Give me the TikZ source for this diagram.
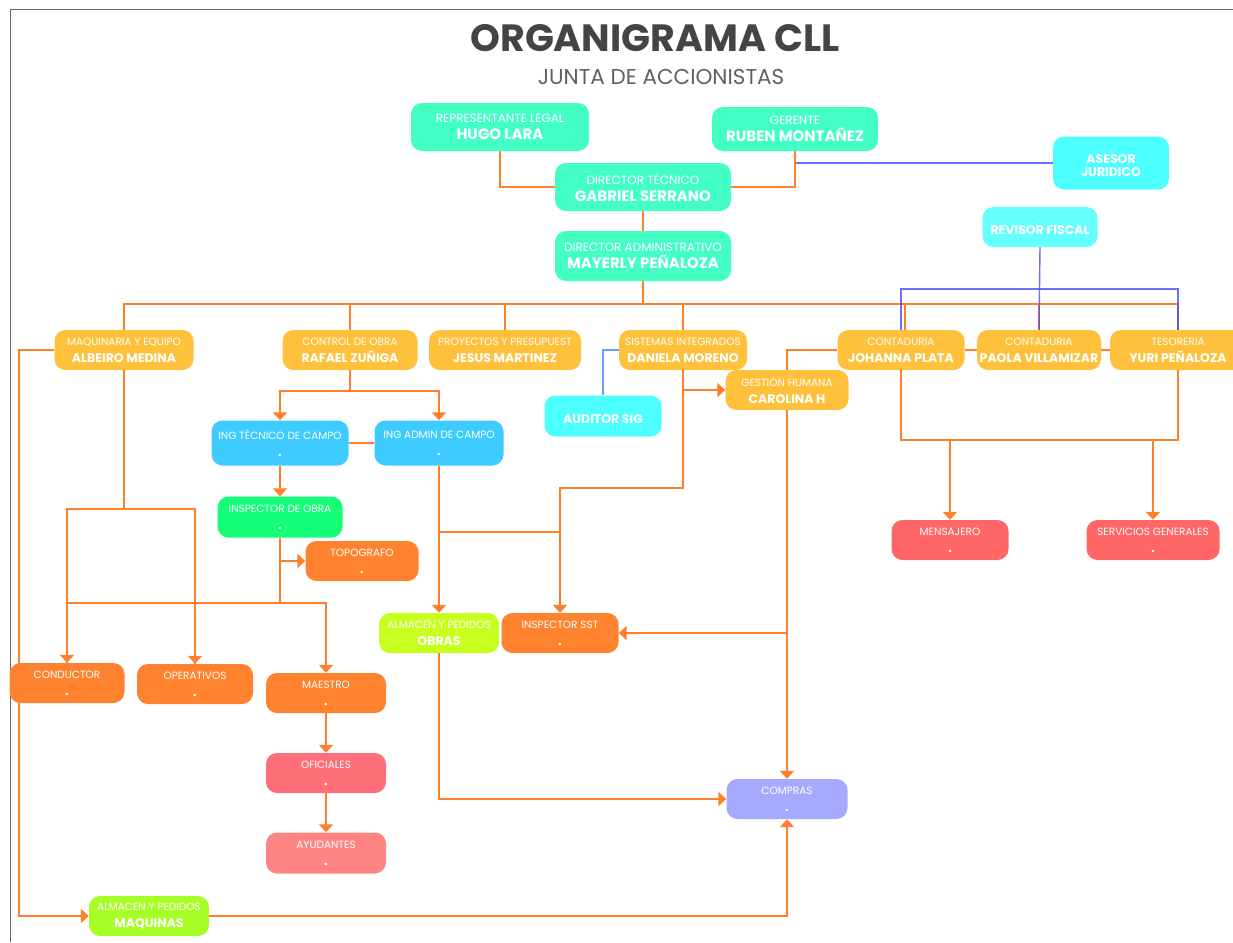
\documentclass[tikz,border=0pt]{standalone}
\usepackage{fontspec}
\setmainfont{Poppins}
\usepackage{tikz}
\usetikzlibrary{arrows.meta}
\definecolor{lineor}{HTML}{FF7F2A}
\definecolor{bluel}{HTML}{4A4AFF}
\definecolor{sigl}{HTML}{6A9CFF}
\definecolor{mint}{HTML}{44FFC4}
\definecolor{aqua}{HTML}{4DFFFF}
\definecolor{aqualt}{HTML}{66FFFF}
\definecolor{gold}{HTML}{FFC13B}
\definecolor{sky}{HTML}{3ECBFF}
\definecolor{green}{HTML}{14FF78}
\definecolor{orng}{HTML}{FF832E}
\definecolor{rose}{HTML}{FF6F7A}
\definecolor{rosel}{HTML}{FF8585}
\definecolor{coral}{HTML}{FF6666}
\definecolor{lime}{HTML}{C7FF1E}
\definecolor{limeb}{HTML}{A6FF26}
\definecolor{lila}{HTML}{A5AAFF}
\definecolor{titl}{HTML}{444444}
\newcommand{\lbl}[1]{{\fontsize{10.5}{12}\selectfont #1}}
\newcommand{\toplbl}[1]{{\fontsize{12}{14}\selectfont #1}}
\newcommand{\nm}[1]{{\fontsize{12.5}{14}\selectfont\bfseries #1}}
\newcommand{\topnm}[1]{{\fontsize{15}{17}\selectfont\bfseries #1}}
\tikzset{
  orgbox/.style   = {rectangle, rounded corners=11pt, draw=none, text=white,
                     align=center, inner sep=1pt, font=\fontsize{10}{17}\selectfont},
  sz/.style 2 args = {minimum width=#1pt, minimum height=#2pt},
  link/.style     = {lineor, line width=2pt},
  arr/.style      = {link, -{Triangle[length=8pt,width=14pt]}},
  bluelink/.style = {bluel, line width=1.4pt, opacity=0.8},
  sigline/.style  = {sigl, line width=1.6pt}
}
\begin{document}
\begin{tikzpicture}[x=1pt,y=-1pt]
  \useasboundingbox (0,0) rectangle (1233,942);
  \draw[gray!80!black, line width=1pt] (1233,10) -- (10,10) -- (10,942);

  \node[titl, font=\fontsize{38}{42}\selectfont\bfseries] (title) at (655,38) {ORGANIGRAMA CLL};
  \node[titl!85, font=\fontsize{21.5}{24}\selectfont] (junta) at (661,77) {JUNTA DE ACCIONISTAS};

  % direccion
  \node[orgbox, fill=mint, sz={178}{48}] (rep) at (500,127) {\toplbl{REPRESENTANTE LEGAL}\\\topnm{HUGO LARA}};
  \node[orgbox, fill=mint, sz={166}{44}] (ger) at (795,129) {\toplbl{GERENTE}\\\topnm{RUBEN MONTAÑEZ}};
  \node[orgbox, fill=mint, sz={176}{48}] (dtec) at (643,187) {\toplbl{DIRECTOR TÉCNICO}\\\topnm{GABRIEL SERRANO}};
  \node[orgbox, fill=mint, sz={176}{50}] (dadm) at (643,256) {\toplbl{DIRECTOR ADMINISTRATIVO}\\\topnm{MAYERLY PEÑALOZA}};
  \node[orgbox, fill=aqua, sz={116}{53}, font=\fontsize{9}{12.5}\selectfont] (ases) at (1111,163) {\lbl{.}\\\nm{ASESOR}\\\nm{JURIDICO}};
  \node[orgbox, fill=aqualt, sz={115}{40}, font=\fontsize{9}{13}\selectfont] (rev) at (1040,227) {\lbl{.}\\\nm{REVISOR FISCAL}};

  % areas
  \node[orgbox, fill=gold, sz={139}{40}] (maq) at (124,350) {\lbl{MAQUINARIA Y EQUIPO}\\\nm{ALBEIRO MEDINA}};
  \node[orgbox, fill=gold, sz={135}{40}] (ctrl) at (350,350) {\lbl{CONTROL DE OBRA}\\\nm{RAFAEL ZUÑIGA}};
  \node[orgbox, fill=gold, sz={152}{40}] (proy) at (505,350) {\lbl{PROYECTOS Y PRESUPUEST}\\\nm{JESUS MARTINEZ}};
  \node[orgbox, fill=gold, sz={128}{40}] (sis) at (683,350) {\lbl{SISTEMAS INTEGRADOS}\\\nm{DANIELA MORENO}};
  \node[orgbox, fill=gold, sz={127}{40}] (cjo) at (901,350) {\lbl{CONTADURIA}\\\nm{JOHANNA PLATA}};
  \node[orgbox, fill=gold, sz={124}{40}] (cpa) at (1039,350) {\lbl{CONTADURIA}\\\nm{PAOLA VILLAMIZAR}};
  \node[orgbox, fill=gold, sz={136}{40}] (tes) at (1178,350) {\lbl{TESORERIA}\\\nm{YURI PEÑALOZA}};
  \node[orgbox, fill=gold, sz={123}{40}] (gh) at (787,390) {\lbl{GESTIÓN HUMANA}\\\nm{CAROLINA H}};
  \node[orgbox, fill=aqua, sz={117}{41}, font=\fontsize{9}{13}\selectfont] (aud) at (603,416) {\lbl{.}\\\nm{AUDITOR SIG}};

  % cargos
  \node[orgbox, fill=sky, sz={137}{45}] (ite) at (280,443) {\lbl{ING TÈCNICO DE CAMPO}\\\nm{.}};
  \node[orgbox, fill=sky, sz={129}{45}] (iad) at (439,443) {\lbl{ING ADMIN DE CAMPO}\\\nm{.}};
  \node[orgbox, fill=green, sz={125}{41}] (insp) at (280,517) {\lbl{INSPECTOR DE OBRA}\\\nm{.}};
  \node[orgbox, fill=orng, sz={113}{40}] (topo) at (362,561) {\lbl{TOPOGRAFO}\\\nm{.}};
  \node[orgbox, fill=orng, sz={115}{40}] (cond) at (67,683) {\lbl{CONDUCTOR}\\\nm{.}};
  \node[orgbox, fill=orng, sz={116}{40}] (oper) at (195,684) {\lbl{OPERATIVOS}\\\nm{.}};
  \node[orgbox, fill=orng, sz={120}{40}] (mae) at (326,693) {\lbl{MAESTRO}\\\nm{.}};
  \node[orgbox, fill=rose, sz={120}{40}] (ofi) at (326,773) {\lbl{OFICIALES}\\\nm{.}};
  \node[orgbox, fill=rosel, sz={120}{41}] (ayu) at (326,853) {\lbl{AYUDANTES}\\\nm{.}};
  \node[orgbox, fill=lime, sz={120}{40}] (aob) at (439,633) {\lbl{ALMACEN Y PEDIDOS}\\\nm{OBRAS}};
  \node[orgbox, fill=orng, sz={117}{40}] (sst) at (560,633) {\lbl{INSPECTOR SST}\\\nm{.}};
  \node[orgbox, fill=lila, sz={121}{40}] (comp) at (787,799) {\lbl{COMPRAS}\\\nm{.}};
  \node[orgbox, fill=coral, sz={117}{40}] (mens) at (950,540) {\lbl{MENSAJERO}\\\nm{.}};
  \node[orgbox, fill=coral, sz={133}{40}] (serv) at (1153,540) {\lbl{SERVICIOS GENERALES}\\\nm{.}};
  \node[orgbox, fill=limeb, sz={120}{40}] (amq) at (149,916) {\lbl{ALMACEN Y PEDIDOS}\\\nm{MAQUINAS}};

  % puntos de quiebre
  \coordinate (busL) at (124,304);
  \coordinate (busR) at (1178,304);
  \coordinate (revk) at (1040,289);
  \coordinate (ctk)  at (350,391);
  \coordinate (opk)  at (280,603);
  \coordinate (mqk)  at (124,509);
  \coordinate (mqL)  at (19,350);
  \coordinate (sisk) at (560,488);
  \coordinate (adk)  at (439,532);
  \coordinate (cbus) at (1040,440);

  % arriba
  \draw[bluelink] (ger.south) |- (ases.west);
  \draw[link] (rep.south) |- (dtec.west);
  \draw[link] (ger.south) |- (dtec.east);
  \draw[link] (dtec) -- (dadm);
  \draw[link] (dadm.south) -- (dadm.south |- busL);
  \draw[link] (maq.north) |- (busR) -- (tes.north);
  \foreach \k in {ctrl,proy,sis,cpa}
    \draw[link] (\k.north) -- (\k.north |- busL);
  \draw[link] ([xshift=4pt]cjo.north) -- ([xshift=4pt]cjo.north |- busL);
  \draw[bluelink] (rev.south) -- (cpa.north);
  \draw[bluelink] (cjo.north) |- (revk) -| (tes.north);

  % contaduria
  \draw[link] (cjo.east) -- (cpa.west);
  \draw[link] (cpa.east) -- (tes.west);
  \draw[link] (cjo.south) |- (cbus) -| (tes.south);
  \draw[arr] (mens.north |- cbus) -- (mens.north);
  \draw[arr] (serv.north |- cbus) -- (serv.north);
  \draw[link] (cjo.west) -| (gh.north);
  \draw[arr] (gh.south) -- (comp.north);
  \draw[arr] (gh.south |- sst.east) -- (sst.east);

  % sistemas
  \draw[sigline] (sis.west) -| (aud.north);
  \draw[arr] (sis.south) |- (gh.west);
  \draw[arr] (sis.south) |- (sisk) -- (sst.north);

  % control de obra
  \draw[link] (ctrl.south) -- (ctk);
  \draw[arr] (ctk) -| (ite.north);
  \draw[arr] (ctk) -| (iad.north);
  \draw[link] (ite.east) -- (iad.west);
  \draw[arr] (ite.south) -- (insp.north);
  \draw[arr] (iad.south) -- (aob.north);
  \draw[link] (adk) -- (adk -| sst.north);
  \draw[arr] (insp.south |- topo.west) -- (topo.west);
  \draw[link] (insp.south) -- (opk);
  \draw[link] (maq.south) -- (mqk);
  \draw[link] (mqk) -| (cond.north);
  \draw[link] (mqk) -| (oper.north);
  \draw[arr] (opk) -| (cond.north);
  \draw[arr] (opk) -| (oper.north);
  \draw[arr] (opk) -| (mae.north);
  \draw[arr] (mae) -- (ofi);
  \draw[arr] (ofi) -- (ayu);

  % almacenes y compras
  \draw[arr] (maq.west) -- (mqL) |- (amq.west);
  \draw[arr] (amq.east) -| (comp.south);
  \draw[arr] (aob.south) |- (comp.west);
\end{tikzpicture}
\end{document}
